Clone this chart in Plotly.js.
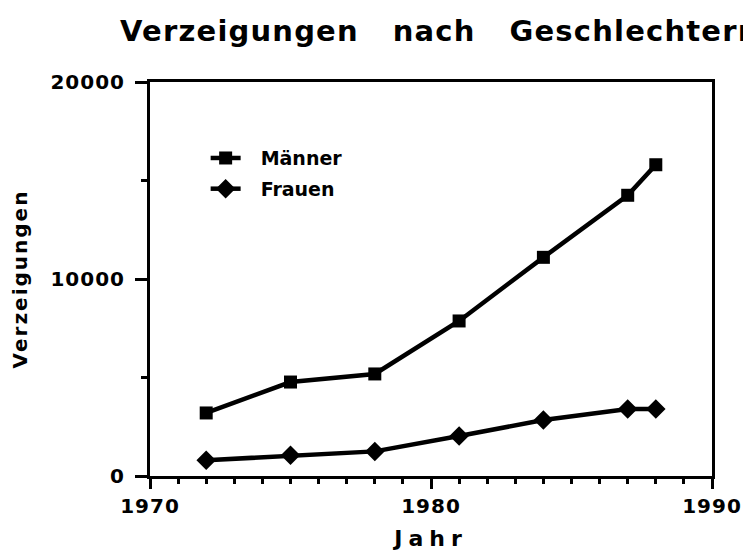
<!DOCTYPE html>
<html>
<head>
<meta charset="utf-8">
<script src="https://cdn.plot.ly/plotly-3.0.1.min.js"></script>
<style>
  html, body { margin: 0; padding: 0; background: #fff; }
  #chart { width: 743px; height: 552px; }
  .gtitle { letter-spacing: 1.2px; }
  .xtitle { letter-spacing: 6px; }
  .ytitle { letter-spacing: 2px; }
  .xtick text, .ytick text { letter-spacing: 1px; }
  .legendtext { transform: translateX(15px); }
  .legend .scrollbox { clip-path: none !important; }
</style>
</head>
<body>
<div id="chart"></div>
<script>
const years = [1972, 1975, 1978, 1981, 1984, 1987, 1988];
const maenner = [3200, 4770, 5180, 7870, 11100, 14250, 15800];
const frauen = [800, 1050, 1250, 2030, 2840, 3400, 3400];
const seriesNames = ['Männer', 'Frauen'];
const titleText = 'Verzeigungen \u00A0\u00A0nach \u00A0\u00A0Geschlechtern';
const xTitle = 'Jahr';
const yTitle = 'Verzeigungen';

const FONT = 'DejaVu Sans, Verdana, sans-serif';

const traces = [
  {
    x: years, y: maenner, name: seriesNames[0], legendgroup: 'm',
    type: 'scatter', mode: 'lines+markers',
    line: {color: '#000', width: 4.5},
    marker: {symbol: 'square', size: 13, color: '#000'}
  },
  {
    x: years, y: frauen, name: seriesNames[1], legendgroup: 'f',
    type: 'scatter', mode: 'lines+markers',
    line: {color: '#000', width: 4.5},
    marker: {symbol: 'diamond', size: 15, color: '#000'}
  }
];

const layout = {
  width: 743, height: 552,
  margin: {l: 150, r: 31, t: 82, b: 76},
  paper_bgcolor: '#fff', plot_bgcolor: '#fff',
  font: {family: FONT, color: '#000', weight: 'bold'},
  title: {
    text: titleText,
    font: {family: FONT, size: 29, color: '#000', weight: 'bold'},
    xref: 'container', x: 120/743, xanchor: 'left',
    yref: 'container', y: 1 - 31/552, yanchor: 'middle'
  },
  showlegend: true,
  legend: {
    x: 0.099, xanchor: 'left', y: 0.855, yanchor: 'top',
    bgcolor: 'rgba(0,0,0,0)',
    font: {family: FONT, size: 19, color: '#000', weight: 'bold'},
    itemwidth: 30,
    tracegroupgap: 3
  },
  xaxis: {
    range: [1970, 1990], dtick: 10, tick0: 1970,
    showgrid: false, zeroline: false,
    showline: true, linecolor: '#000', linewidth: 3, mirror: true,
    ticks: 'outside', ticklen: 10, tickwidth: 3, tickcolor: '#000',
    minor: {dtick: 1, ticks: 'outside', ticklen: 5, tickwidth: 3, tickcolor: '#000', showgrid: false},
    tickfont: {family: FONT, size: 20, color: '#000', weight: 'bold'},
    title: {text: xTitle, font: {family: FONT, size: 22, color: '#000', weight: 'bold'}, standoff: 14}
  },
  yaxis: {
    range: [0, 20000], dtick: 10000, tick0: 0, tickformat: 'd',
    showgrid: false, zeroline: false,
    showline: true, linecolor: '#000', linewidth: 3, mirror: true,
    ticks: 'outside', ticklen: 12, tickwidth: 3, tickcolor: '#000',
    minor: {dtick: 5000, ticks: 'outside', ticklen: 6, tickwidth: 3, tickcolor: '#000', showgrid: false},
    tickfont: {family: FONT, size: 20, color: '#000', weight: 'bold'},
    ticklabelstandoff: 6,
    title: {text: yTitle, font: {family: FONT, size: 20, color: '#000', weight: 'bold'}, standoff: 18}
  }
};

Plotly.newPlot('chart', traces, layout, {displayModeBar: false, staticPlot: true});
</script>
</body>
</html>
